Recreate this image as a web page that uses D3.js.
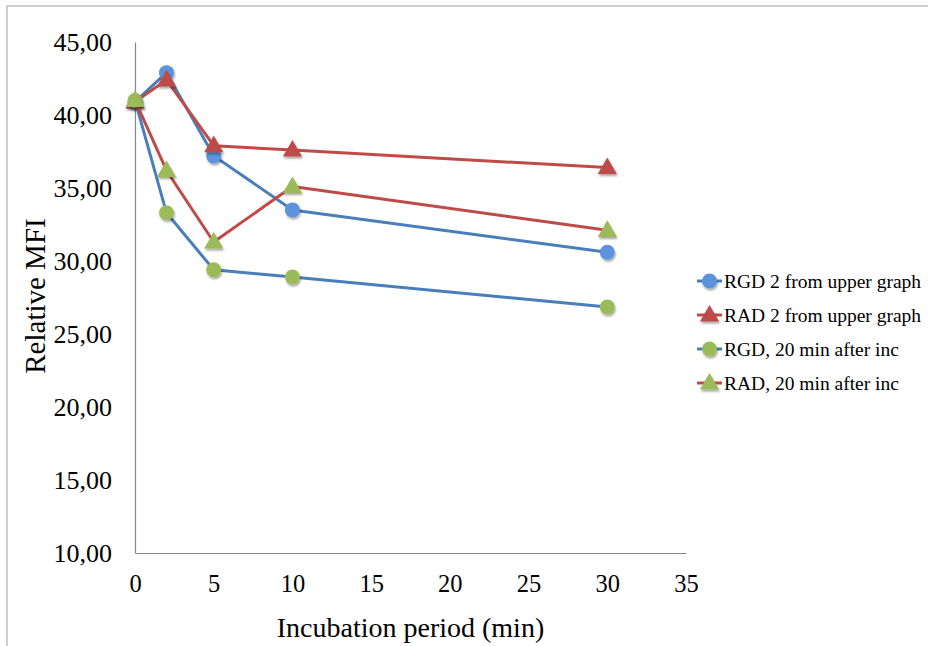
<!DOCTYPE html>
<html>
<head>
<meta charset="utf-8">
<script src="https://cdn.jsdelivr.net/npm/d3@7"></script>
<style>
  body { margin: 0; background: #fff; }
</style>
</head>
<body>
<div id="chart"></div>
<script>
// Chart size
var width = 928;
var height = 646;
var serif = "'Liberation Serif', 'Times New Roman', serif";

// Data
var times = [0, 2, 5, 10, 30];
var rgdUpper = [40.9, 42.9, 37.2, 33.5, 30.6];
var radUpper = [40.9, 42.4, 37.9, 37.6, 36.4];
var rgd20 = [41.0, 33.3, 29.4, 28.9, 26.85];
var rad20 = [41.0, 36.2, 31.3, 35.1, 32.1];
var seriesNames = ["RGD 2 from upper graph", "RAD 2 from upper graph",
                   "RGD, 20 min after inc", "RAD, 20 min after inc"];
var xTicks = [0, 5, 10, 15, 20, 25, 30, 35];
var yTicks = [10, 15, 20, 25, 30, 35, 40, 45];

var blue = "#4a7ebb", red = "#be4b48", green = "#9bbb59", blueDot = "#5b93dc";

var series = [
  { name: seriesNames[0], values: rgdUpper, line: blue, fill: blueDot, shape: "circle" },
  { name: seriesNames[1], values: radUpper, line: red, fill: red, shape: "triangle" },
  { name: seriesNames[2], values: rgd20, line: blue, fill: green, shape: "circle" },
  { name: seriesNames[3], values: rad20, line: red, fill: green, shape: "triangle" }
];

var margin = { left: 135, top: 42, right: 242, bottom: 93 };

var svg = d3.select("#chart").append("svg")
    .attr("width", width)
    .attr("height", height)
    .attr("font-family", serif);

var defs = svg.append("defs");
var shadow = defs.append("filter").attr("id", "shadow")
    .attr("x", "-50%").attr("y", "-50%").attr("width", "200%").attr("height", "200%");
shadow.append("feDropShadow")
    .attr("dx", 1).attr("dy", 2).attr("stdDeviation", 1.2)
    .attr("flood-color", "#000").attr("flood-opacity", 0.35);

// outer frame (only left and top edges visible)
svg.append("path")
    .attr("d", "M7," + height + "V6H" + width)
    .attr("fill", "none")
    .attr("stroke", "#bfbfbf")
    .attr("stroke-width", 1.5);

var x = d3.scaleLinear().domain([0, 35]).range([margin.left, width - margin.right]);
var y = d3.scaleLinear().domain([10, 45]).range([height - margin.bottom, margin.top]);

// axes
var xAxis = svg.append("g")
    .attr("transform", "translate(0," + y(10) + ")")
    .call(d3.axisBottom(x).tickValues(xTicks).tickSize(0).tickPadding(22));
xAxis.attr("font-family", serif);
xAxis.select(".domain").attr("stroke", "#868686").attr("stroke-width", 1.2);
xAxis.selectAll("text").attr("font-size", 24.5).attr("fill", "#000");

var yAxis = svg.append("g")
    .attr("transform", "translate(" + x(0) + ",0)")
    .call(d3.axisLeft(y).tickValues(yTicks).tickSize(0).tickPadding(23)
      .tickFormat(function(d) { return d3.format(".2f")(d).replace(".", ","); }));
yAxis.attr("font-family", serif);
yAxis.select(".domain").attr("stroke", "#868686").attr("stroke-width", 1.2);
yAxis.selectAll("text").attr("font-size", 26).attr("fill", "#000");

// axis titles
svg.append("text")
    .attr("x", (x(0) + x(35)) / 2)
    .attr("y", 637)
    .attr("text-anchor", "middle")
    .attr("font-size", 28)
    .text("Incubation period (min)");

svg.append("text")
    .attr("transform", "translate(45," + y(27.6) + ") rotate(-90)")
    .attr("text-anchor", "middle")
    .attr("font-size", 29)
    .text("Relative MFI");

var line = d3.line()
    .x(function(d, i) { return x(times[i]); })
    .y(function(d) { return y(d); });

var tri = d3.symbol().type(d3.symbolTriangle).size(160);

function drawMarker(g, s, cx, cy) {
  if (s.shape === "circle") {
    g.append("circle")
        .attr("cx", cx).attr("cy", cy).attr("r", 7.5)
        .attr("fill", s.fill)
        .attr("filter", "url(#shadow)");
  } else {
    g.append("path")
        .attr("d", tri())
        .attr("transform", "translate(" + cx + "," + (cy + 1) + ")")
        .attr("fill", s.fill)
        .attr("filter", "url(#shadow)");
  }
}

// series: line then markers, in legend order
series.forEach(function(s) {
  var g = svg.append("g");
  g.append("path")
      .datum(s.values)
      .attr("d", line)
      .attr("fill", "none")
      .attr("stroke", s.line)
      .attr("stroke-width", 3)
      .attr("stroke-linejoin", "round");
  s.values.forEach(function(v, i) {
    drawMarker(g, s, x(times[i]), y(v));
  });
});

// legend
var legend = svg.append("g");
series.forEach(function(s, i) {
  var ly = 281 + i * 34;
  var g = legend.append("g");
  g.append("line")
      .attr("x1", 697).attr("x2", 722)
      .attr("y1", ly).attr("y2", ly)
      .attr("stroke", s.line)
      .attr("stroke-width", 3);
  drawMarker(g, s, 709.5, ly);
  g.append("text")
      .attr("x", 724)
      .attr("y", ly + 6.5)
      .attr("font-size", 19.5)
      .text(s.name);
});
</script>
</body>
</html>
